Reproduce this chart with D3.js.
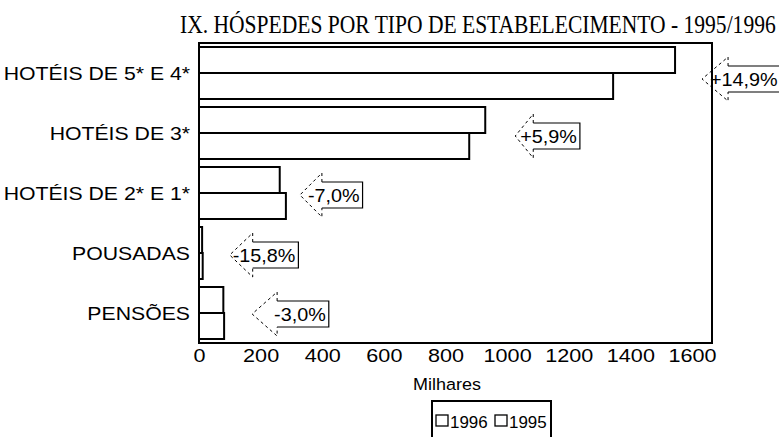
<!DOCTYPE html>
<html>
<head>
<meta charset="utf-8">
<script src="https://cdn.jsdelivr.net/npm/d3@7"></script>
<style>
  html, body { margin: 0; padding: 0; background: #fff; }
  svg { display: block; }
</style>
</head>
<body>
<svg id="chart" width="779" height="437"></svg>
<script>
// ---------- data ----------
const title = "IX. HÓSPEDES POR TIPO DE ESTABELECIMENTO - 1995/1996";
const categories = ["HOTÉIS DE 5* E 4*", "HOTÉIS DE 3*", "HOTÉIS DE 2* E 1*", "POUSADAS", "PENSÕES"];
const seriesNames = ["1996", "1995"];
const values1996 = [1545, 929, 262, 10.1, 79];
const values1995 = [1344, 877, 282, 12, 81.5];
const changeLabels = ["+14,9%", "+5,9%", "-7,0%", "-15,8%", "-3,0%"];
const xTicks = [0, 200, 400, 600, 800, 1000, 1200, 1400, 1600];
const xAxisTitle = "Milhares";

// ---------- layout ----------
const svg = d3.select("#chart");
const plot = { left: 199, right: 692, frameRight: 712, top: 43, bottom: 343 };
const sansFont = "'Liberation Sans', Arial, sans-serif";

const x = d3.scaleLinear().domain([0, 1600]).range([plot.left, plot.right]);
const y = d3.scaleBand().domain(categories).range([plot.top, plot.bottom])
  .paddingInner(8 / 60).paddingOuter(4 / 60);
const ySub = d3.scaleBand().domain(seriesNames).range([0, y.bandwidth()]);

const rows = categories.map((c, i) => ({
  cat: c, v: { "1996": values1996[i], "1995": values1995[i] }, label: changeLabels[i]
}));

// stretched text helper (the reference type is wide)
function wideText(parent, px, py, txt, opts) {
  const o = Object.assign({ anchor: "start", size: 18, sx: 1.15, family: sansFont }, opts || {});
  return parent.append("text")
    .attr("transform", `translate(${px},${py}) scale(${o.sx},1)`)
    .attr("text-anchor", o.anchor)
    .attr("font-family", o.family).attr("font-size", o.size)
    .attr("fill", "#000")
    .text(txt);
}

// title (condensed serif, fitted to its width)
const tt = wideText(svg, 180, 33, title, {
  size: 25.5, sx: 1, family: "'Liberation Serif', 'Times New Roman', serif"
});
const tsx = 596 / tt.node().getComputedTextLength();
tt.attr("transform", `translate(180,33) scale(${tsx},1)`);

// plot frame
svg.append("rect")
  .attr("x", plot.left).attr("y", plot.top)
  .attr("width", plot.frameRight - plot.left).attr("height", plot.bottom - plot.top)
  .attr("fill", "none").attr("stroke", "#000").attr("stroke-width", 2);

// bars
const g = svg.append("g");
rows.forEach(r => {
  seriesNames.forEach(s => {
    g.append("rect")
      .attr("x", x(0))
      .attr("y", y(r.cat) + ySub(s))
      .attr("width", Math.max(1, x(r.v[s]) - x(0)))
      .attr("height", ySub.bandwidth())
      .attr("fill", "#fff").attr("stroke", "#000").attr("stroke-width", 2);
  });
});

// category labels
const catG = svg.append("g");
categories.forEach(c => {
  wideText(catG, 190, y(c) + y.bandwidth() / 2 + 6.5, c, { anchor: "end", size: 18, sx: 1.18 });
});

// x axis tick labels
const xAxis = d3.axisBottom(x).tickValues(xTicks).tickSize(0).tickPadding(6).tickFormat(d3.format("d"));
const ax = svg.append("g").attr("transform", `translate(0,${plot.bottom})`).call(xAxis);
ax.select(".domain").remove();
ax.selectAll("text")
  .attr("font-family", sansFont).attr("font-size", 18).attr("fill", "#000")
  .attr("transform", "scale(1.2,1)");

wideText(svg, 447, 390, xAxisTitle, { anchor: "middle", size: 17, sx: 1.06 });

// legend
const lg = svg.append("g");
lg.append("rect").attr("x", 432).attr("y", 401).attr("width", 119).attr("height", 50)
  .attr("fill", "#fff").attr("stroke", "#000").attr("stroke-width", 2);
const legX = [436, 495];
seriesNames.forEach((s, i) => {
  lg.append("rect").attr("x", legX[i]).attr("y", 415).attr("width", 12).attr("height", 11)
    .attr("fill", "#fff").attr("stroke", "#000").attr("stroke-width", 1.3);
  wideText(lg, legX[i] + 14, 428, s, { size: 16, sx: 1.06 });
});

// change callouts (left-arrow shaped)
// placement: tip offset from bar end, vertical offset from band centre, head length, text offset from tip
const calloutLayout = [
  { dx: 27, dy: 6, head: 26, tOff: 8 },
  { dx: 30, dy: 3, head: 18, tOff: 5 },
  { dx: 14, dy: 2, head: 22, tOff: 8 },
  { dx: 27, dy: 2, head: 23, tOff: 3 },
  { dx: 28, dy: 1, head: 25, tOff: 22 }
];
const cg = svg.append("g");
rows.forEach((r, i) => {
  const L = calloutLayout[i];
  const tipX = x(Math.max(r.v["1996"], r.v["1995"])) + L.dx;
  const cy = y(r.cat) + y.bandwidth() / 2 + L.dy;
  const headX = tipX + L.head;
  const sx = 1.1;
  const t = wideText(cg, tipX + L.tOff, cy + 6.5, r.label, { size: 18, sx: sx });
  const tw = t.node().getComputedTextLength() * sx;
  const boxR = tipX + L.tOff + tw + 3;
  const bh = 13, hh = 22;
  cg.append("path")
    .attr("d", `M${headX},${cy - bh} L${boxR},${cy - bh} L${boxR},${cy + bh} L${headX},${cy + bh}`)
    .attr("fill", "none").attr("stroke", "#000").attr("stroke-width", 1.2);
  cg.append("path")
    .attr("d", `M${headX},${cy - bh} L${headX},${cy - hh} L${tipX},${cy} L${headX},${cy + hh} L${headX},${cy + bh}`)
    .attr("fill", "none").attr("stroke", "#000").attr("stroke-width", 1)
    .attr("stroke-dasharray", "3,3");
  t.raise();
});
</script>
</body>
</html>
